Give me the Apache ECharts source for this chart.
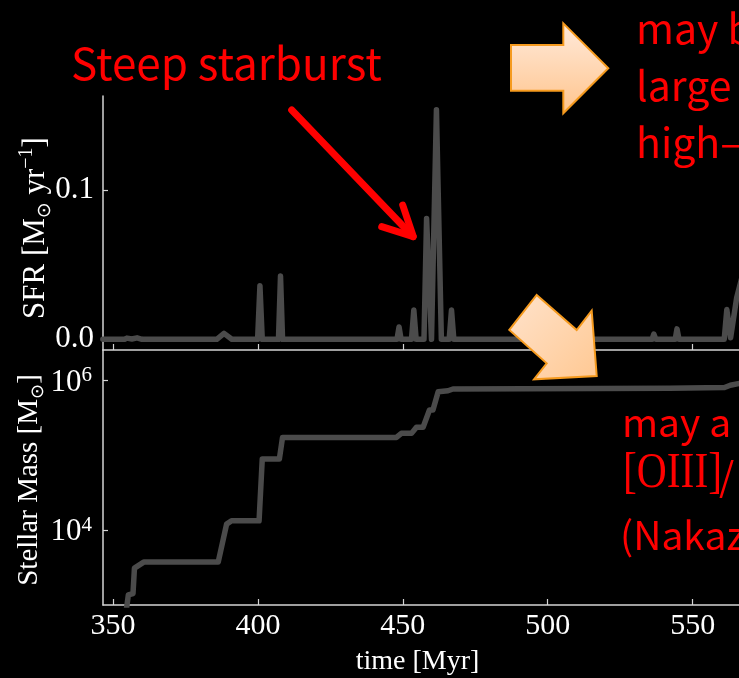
<!DOCTYPE html>
<html lang="en">
<head>
<meta charset="UTF-8">
<title>SFR and stellar mass</title>
<script src="https://cdn.jsdelivr.net/npm/echarts@6/dist/echarts.min.js"></script>
<style>
  html, body { margin: 0; padding: 0; background: #000; }
  #main { width: 739px; height: 678px; }
</style>
</head>
<body>
<div id="main"></div>
<script>
// SFR history [Msun/yr]
const sfrTime = [346.5, 354.0, 354.8, 356.5, 358.3, 360.0, 385.8, 388.3, 391.0,
  399.9, 400.7, 401.5, 407.1, 407.8, 408.5, 448.0, 448.7, 449.4, 453.0, 453.8, 454.6,
  457.3, 458.2, 459.9, 461.6, 463.3, 466.0, 466.8, 467.6, 536.0, 536.6, 537.3,
  544.0, 544.6, 545.3, 560.9, 561.8, 563.1, 565.2, 566.8];
const sfrValue = [0, 0, 0.0008, 0.0002, 0.001, 0, 0, 0.004, 0,
  0, 0.036, 0, 0, 0.0425, 0, 0, 0.0083, 0, 0, 0.0197, 0,
  0, 0.081, 0, 0.154, 0, 0, 0.0197, 0, 0, 0.0035, 0,
  0, 0.007, 0, 0, 0.02, 0.001, 0.028, 0.04];

// stellar mass history, bottom panel [Msun]
const massTime = [354.6, 355.3, 356.9, 357.4, 359.0, 360.6, 386.3, 389.2, 390.9,
  400.4, 401.5, 407.4, 408.5, 447.8, 449.5, 453.0, 454.7, 457.0, 459.2, 460.4,
  462.2, 465.6, 467.3, 542.0, 561.0, 563.0, 567.0];
const massValue = [850, 1350, 1410, 3090, 3390, 3720, 3720, 12000, 13300,
  13300, 89100, 89100, 173800, 173800, 197200, 197200, 237700, 237700, 404600, 404600,
  712900, 734500, 774500, 790700, 812800, 871000, 935000];

const timeTicks = [350, 400, 450, 500, 550];
const sfrTicks = [0, 0.1];
const massTicks = [1e4, 1e6];

const serif = 'Liberation Serif';
const gothic = 'Noto Sans CJK JP';
const axisColor = '#d4d4d4';
const lineColor = '#4b4b4b';

const chart = echarts.init(document.getElementById('main'), null, { renderer: 'canvas' });

function timeAxis(grid, labels) {
  return {
    type: 'value', gridIndex: grid, min: 346.55, max: 566,
    axisLine: { onZero: false, lineStyle: { color: axisColor, width: 1.5 } },
    axisTick: { inside: true, length: 6, customValues: timeTicks, lineStyle: { color: axisColor, width: 1.2 } },
    axisLabel: labels ? { customValues: timeTicks, color: '#fff', fontFamily: serif, fontSize: 30, margin: 6 } : { show: false },
    splitLine: { show: false }
  };
}

const xTop = timeAxis(0, false);
const xBottom = timeAxis(1, true);
xBottom.name = 'time [Myr]';
xBottom.nameLocation = 'middle';
xBottom.nameGap = 43;
xBottom.nameMoveOverlap = false;
xBottom.nameTextStyle = { color: '#fff', fontFamily: serif, fontSize: 28, padding: [0, 7, 0, 0] };

const option = {
  backgroundColor: '#000',
  animation: false,
  grid: [
    { left: 103, top: 96, width: 636, height: 254, outerBoundsMode: 'none', containLabel: false },
    { left: 103, top: 350, width: 636, height: 255, outerBoundsMode: 'none', containLabel: false }
  ],
  xAxis: [xTop, xBottom],
  yAxis: [
    {
      type: 'value', gridIndex: 0, min: -0.00718, max: 0.1633,
      axisLine: { show: true, onZero: false, lineStyle: { color: axisColor, width: 1.5 } },
      axisTick: { show: true, inside: true, length: 5, customValues: sfrTicks, lineStyle: { color: axisColor, width: 1.2 } },
      axisLabel: { customValues: sfrTicks, color: '#fff', fontFamily: serif, fontSize: 31, margin: 9,
        formatter: v => v.toFixed(1) },
      splitLine: { show: false },
      name: 'SFR [M{sub|⊙} yr{sup|−1}]',
      nameLocation: 'middle', nameRotate: 90, nameGap: 48, nameMoveOverlap: false,
      nameTextStyle: {
        color: '#fff', fontFamily: serif, fontSize: 31, lineHeight: 38, padding: [0, 10, 0, 0],
        rich: {
          sub: { color: '#fff', fontFamily: 'DejaVu Sans', fontSize: 19, lineHeight: 19, verticalAlign: 'bottom' },
          sup: { color: '#fff', fontFamily: serif, fontSize: 20, lineHeight: 20, verticalAlign: 'top' }
        }
      }
    },
    {
      type: 'log', gridIndex: 1, min: 990, max: 2.58e6,
      axisLine: { show: true, onZero: false, lineStyle: { color: axisColor, width: 1.5 } },
      axisTick: { show: true, inside: true, length: 5, customValues: massTicks, lineStyle: { color: axisColor, width: 1.2 } },
      axisLabel: {
        customValues: massTicks, color: '#fff', margin: 11,
        formatter: v => '{b|10}{s|' + Math.round(Math.log10(v)) + '}',
        rich: {
          b: { color: '#fff', fontFamily: serif, fontSize: 31, lineHeight: 31, padding: [4, 0, 0, 0] },
          s: { color: '#fff', fontFamily: serif, fontSize: 21, lineHeight: 21, verticalAlign: 'top' }
        }
      },
      splitLine: { show: false },
      name: 'Stellar Mass [M{sub|⊙}]',
      nameLocation: 'middle', nameRotate: 90, nameGap: 56, nameMoveOverlap: false,
      nameTextStyle: {
        color: '#fff', fontFamily: serif, fontSize: 29, lineHeight: 36, padding: [0, 5, 0, 0],
        rich: {
          sub: { color: '#fff', fontFamily: 'DejaVu Sans', fontSize: 18, lineHeight: 18, verticalAlign: 'bottom' }
        }
      }
    }
  ],
  series: [
    {
      type: 'line', xAxisIndex: 0, yAxisIndex: 0, showSymbol: false,
      data: sfrTime.map((t, i) => [t, sfrValue[i]]),
      lineStyle: { color: lineColor, width: 5.5, join: 'round', cap: 'round' }
    },
    {
      type: 'line', xAxisIndex: 1, yAxisIndex: 1, showSymbol: false,
      data: massTime.map((t, i) => [t, massValue[i]]),
      lineStyle: { color: lineColor, width: 5.5, join: 'round', cap: 'round' }
    }
  ],
  graphic: [
    // annotation arrows from the slide
    {
      type: 'line', z: 100,
      shape: { x1: 291.7, y1: 110, x2: 413, y2: 236.5 },
      style: { stroke: '#ff0000', lineWidth: 7, lineCap: 'round' }
    },
    {
      type: 'polyline', z: 100,
      shape: { points: [[381.7, 226.7], [413.3, 236.7], [402.7, 205]] },
      style: { stroke: '#ff0000', lineWidth: 7, lineCap: 'round', lineJoin: 'round', fill: null }
    },
    {
      type: 'polygon', z: 100,
      shape: { points: [[511, 45], [563.3, 45], [563.3, 23.3], [608.3, 68.3], [563.3, 113.3], [563.3, 90.7], [511, 90.7]] },
      style: {
        fill: new echarts.graphic.LinearGradient(0, 0, 0, 1, [
          { offset: 0, color: '#ffeadb' }, { offset: 1, color: '#ffc48c' }
        ]),
        stroke: '#f59a1e', lineWidth: 2
      }
    },
    {
      type: 'polygon', z: 100,
      shape: { points: [[536.7, 295], [576.7, 330], [591.7, 310.7], [596.7, 376], [534, 379.3], [546.7, 363.3], [509.3, 330]] },
      style: {
        fill: new echarts.graphic.LinearGradient(0, 0, 1, 1, [
          { offset: 0, color: '#ffe3cc' }, { offset: 1, color: '#ffc892' }
        ]),
        stroke: '#f59a1e', lineWidth: 2
      }
    },
    // red slide text
    {
      type: 'text', z: 100, x: 71, y: 41,
      style: { text: 'Steep starburst', fill: '#ff0000', font: '44px "' + gothic + '"', textVerticalAlign: 'top' }
    },
    {
      type: 'text', z: 100, x: 636, y: 0,
      style: { text: 'may b\nlarge\nhigh–', fill: '#ff0000', font: '41px "' + gothic + '"', lineHeight: 57, textVerticalAlign: 'top' }
    },
    {
      type: 'text', z: 100, x: 622, y: 403,
      style: { text: 'may a', fill: '#ff0000', font: '39px "' + gothic + '"', textVerticalAlign: 'top' }
    },
    {
      type: 'text', z: 100, x: 623, y: 449, scaleX: 0.83,
      style: { text: '[OIII]', fill: '#ff0000', font: '50px "' + serif + '"', textVerticalAlign: 'top' }
    },
    {
      type: 'text', z: 100, x: 719, y: 457,
      style: { text: '/', fill: '#ff0000', font: '39px "' + gothic + '"', textVerticalAlign: 'top' }
    },
    {
      type: 'text', z: 100, x: 620, y: 516,
      style: { text: '(Nakaz', fill: '#ff0000', font: '39px "' + gothic + '"', textVerticalAlign: 'top' }
    }
  ]
};

chart.setOption(option);
</script>
</body>
</html>
